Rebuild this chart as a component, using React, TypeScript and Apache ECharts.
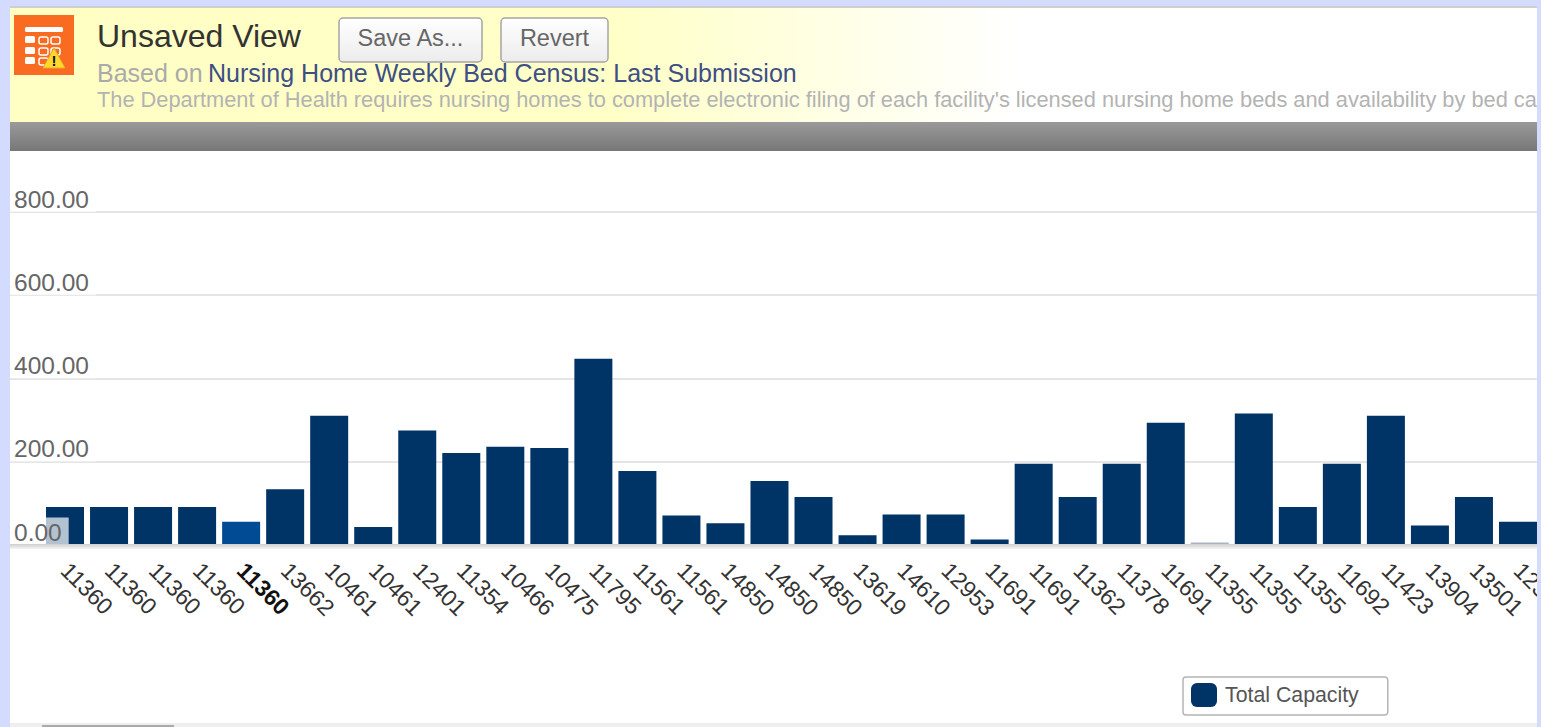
import React, { useEffect, useRef } from "react";
import * as echarts from "echarts";

const categories = ["11360","11360","11360","11360","11360","13662","10461","10461","12401","11354","10466","10475","11795","11561","11561","14850","14850","14850","13619","14610","12953","11691","11691","11362","11378","11691","11355","11355","11355","11692","11423","13904","13501","12301"];
const capacity = [90,90,90,90,55,133,310,42,274,220,235,232,447,177,70,51,153,114,22,72,72,12,194,114,194,293,5,315,90,194,310,46,114,55];
const highlighted = 4;
const faded = 26;
const yMax = 800;
const font = "Liberation Sans, Arial, sans-serif";
const pageBg = "#d3dcff";
const title = "Unsaved View";
const basedOn = "Based on";
const source = "Nursing Home Weekly Bed Census: Last Submission";
const description = "The Department of Health requires nursing homes to complete electronic filing of each facility's licensed nursing home beds and availability by bed category";

const txt = (x: number, y: number, text: string, size: number, fill: string, extra: any = {}) => ({
  type: "text", x, y, z: 10,
  style: { text, fill, font: `${size}px ${font}`, textVerticalAlign: "middle", ...extra },
});
const button = (x: number, w: number, label: string) => ({
  type: "group", z: 10,
  children: [
    { type: "rect", shape: { x, y: 18, width: w, height: 44, r: 4 }, z: 10,
      style: { fill: { type: "linear", x: 0, y: 0, x2: 0, y2: 1, colorStops: [{ offset: 0, color: "#ffffff" }, { offset: 1, color: "#ececec" }] }, stroke: "#a5a5a5", lineWidth: 1.5 } },
    { type: "text", x: x + w / 2, y: 38, z: 11, style: { text: label, fill: "#666", font: `23.5px ${font}`, textAlign: "center", textVerticalAlign: "middle" } },
  ],
});
const cell = (x: number, y: number, w: number, h: number) => ({ type: "rect", z: 11, shape: { x, y, width: w, height: h, r: 1.5 }, style: { fill: "#fff" } });
const ringCell = (x: number, y: number) => ({ type: "rect", z: 11, shape: { x, y, width: 9, height: 7, r: 2 }, style: { fill: "#f96b20", stroke: "#fff", lineWidth: 1.5 } });

const graphics: any[] = [
  { type: "rect", z: 9, shape: { x: 10, y: 8, width: 1527, height: 114 },
    style: { fill: { type: "linear", x: 0, y: 0, x2: 1, y2: 0, colorStops: [{ offset: 0, color: "#ffffc4" }, { offset: 0.4, color: "#ffffc8" }, { offset: 0.66, color: "#ffffff" }, { offset: 1, color: "#ffffff" }] } } },
  { type: "rect", z: 9, shape: { x: 10, y: 122, width: 1527, height: 29 },
    style: { fill: { type: "linear", x: 0, y: 0, x2: 0, y2: 1, colorStops: [{ offset: 0, color: "#9a9a9a" }, { offset: 1, color: "#777777" }] } } },
  { type: "rect", z: 9, shape: { x: 14, y: 15, width: 60, height: 60 }, style: { fill: "#f96b20" } },
  cell(25, 27, 38, 5),
  cell(25, 36, 10, 7), cell(25, 47, 10, 7), cell(25, 57, 10, 7),
  ringCell(39, 37), ringCell(51, 37), ringCell(39, 48), ringCell(51, 48), ringCell(39, 58),
  { type: "polygon", z: 12, shape: { points: [[54, 48], [43, 68], [65, 68]] }, style: { fill: "#ffd92e", stroke: "#e9a92a", lineWidth: 1 } },
  { type: "text", x: 54, y: 60, z: 13, style: { text: "!", fill: "#111", font: `bold 15px ${font}`, textAlign: "center", textVerticalAlign: "middle" } },
  txt(97, 36, title, 32, "#333"),
  button(339, 143, "Save As..."),
  button(501, 107, "Revert"),
  txt(97, 73, basedOn, 25, "#aaaaaa"),
  txt(208, 73, source, 25, "#3d4f85"),
  txt(97, 99.5, description, 21.8, "#b3b3b3"),
  { type: "rect", z: 9, shape: { x: 10, y: 544, width: 1527, height: 5 },
    style: { fill: { type: "linear", x: 0, y: 0, x2: 0, y2: 1, colorStops: [{ offset: 0, color: "#cfcfcf" }, { offset: 1, color: "#f4f4f4" }] } } },
  { type: "rect", z: 20, shape: { x: 0, y: 723, width: 1541, height: 4 }, style: { fill: "#eeeeee" } },
  { type: "rect", z: 21, shape: { x: 42, y: 725, width: 132, height: 2 }, style: { fill: "#aaaaaa" } },
  { type: "rect", z: 20, shape: { x: 0, y: 0, width: 1541, height: 6 }, style: { fill: pageBg } },
  { type: "rect", z: 20, shape: { x: 0, y: 6, width: 1541, height: 2 }, style: { fill: "#cfcfcf" } },
  { type: "rect", z: 20, shape: { x: 0, y: 0, width: 10, height: 727 }, style: { fill: pageBg } },
  { type: "rect", z: 20, shape: { x: 1537, y: 0, width: 4, height: 727 }, style: { fill: pageBg } },
];

export default function App() {
  const ref = useRef<HTMLDivElement>(null);
  useEffect(() => {
    const chart = echarts.init(ref.current!, undefined, { renderer: "svg" });
    chart.setOption({
      animation: false,
      backgroundColor: "#ffffff",
      textStyle: { fontFamily: font },
      legend: {
        left: 1183, top: 677, padding: [6, 29, 8, 8], orient: "horizontal",
        itemWidth: 26, itemHeight: 24, itemGap: 11,
        borderColor: "#b5b5b5", borderWidth: 1.5, borderRadius: 3, backgroundColor: "#fff",
        textStyle: { fontSize: 21.3, color: "#555", fontFamily: font, padding: [0, 0, 0, 3] },
        itemStyle: { borderRadius: 5 },
        data: ["Total Capacity"],
      },
      grid: [
        { left: 10, right: 4, top: 212, height: 332.5, outerBoundsMode: "none" },
        { left: 43, width: 1497, top: 212, height: 332.5, outerBoundsMode: "none" },
      ],
      xAxis: [
        { type: "value", gridIndex: 0, show: false, min: 0, max: 1 },
        {
          type: "category", gridIndex: 1, data: categories,
          axisLine: { show: false }, axisTick: { show: false },
          axisLabel: {
            interval: 0, rotate: -45, margin: 22, fontSize: 23, color: "#333", fontFamily: font, align: "left",
            formatter: (v: string, i: number) => (i === highlighted ? `{b|${v}}` : v),
            rich: { b: { fontWeight: "bold", fontSize: 23, color: "#111", fontFamily: font } },
          },
        },
      ],
      yAxis: [
        {
          type: "value", gridIndex: 0, min: 0, max: yMax, interval: 200, z: 1, position: "left",
          axisLine: { show: false }, axisTick: { show: false }, axisLabel: { show: false },
          splitLine: { lineStyle: { color: "#dcdcdc", width: 1.5 } },
        },
        { type: "value", gridIndex: 1, show: false, min: 0, max: yMax },
        {
          type: "value", gridIndex: 0, min: 0, max: yMax, interval: 200, z: 8, position: "left",
          axisLine: { show: false }, axisTick: { show: false }, splitLine: { show: false },
          axisLabel: {
            inside: true, margin: 0, fontSize: 24.5, color: "#666", fontFamily: font, verticalAlign: "bottom",
            backgroundColor: "rgba(255,255,255,0.7)", padding: [2, 7, 0, 4],
            formatter: (v: number) => v.toFixed(2),
          },
        },
      ],
      series: [
        {
          name: "Total Capacity", type: "bar", xAxisIndex: 1, yAxisIndex: 1, barWidth: 38, z: 3,
          itemStyle: { color: "#003366" },
          data: capacity.map((value, i) =>
            i === highlighted ? { value, itemStyle: { color: "#004b93" } }
            : i === faded ? { value, itemStyle: { color: "#aab4c0" } }
            : value),
        },
      ],
      graphic: graphics,
    });
    return () => chart.dispose();
  }, []);
  return <div ref={ref} style={{ position: "fixed", left: 0, top: 0, width: 1541, height: 727 }} />;
}
